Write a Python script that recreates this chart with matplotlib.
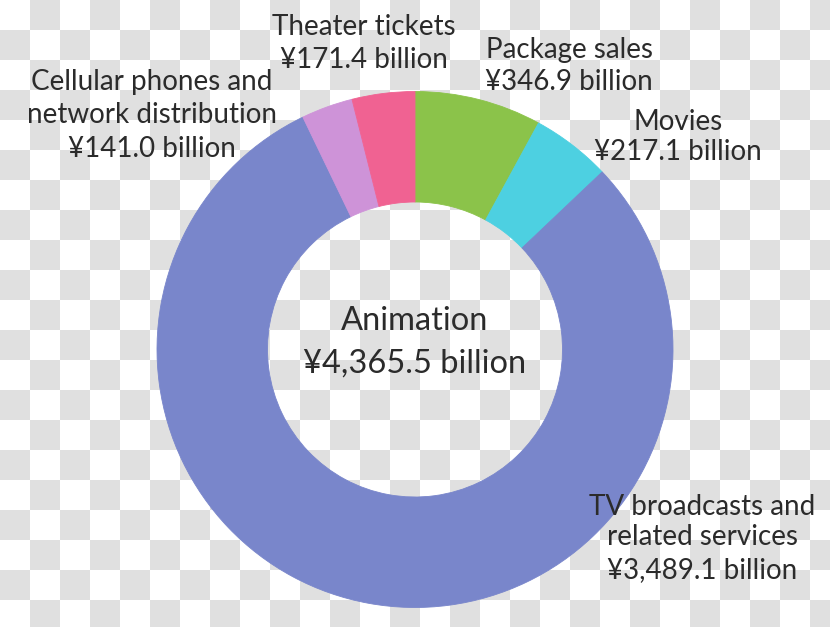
import numpy as np
import matplotlib
matplotlib.use("Agg")
import matplotlib.pyplot as plt
from matplotlib.patches import Rectangle
from matplotlib.collections import PatchCollection

# ---- data ----
categories = ["Package sales", "Movies", "TV broadcasts and\nrelated services",
              "Cellular phones and\nnetwork distribution", "Theater tickets"]
values = [346.9, 217.1, 3489.1, 141.0, 171.4]
colors = ["#8bc34a", "#4dd0e1", "#7986cb", "#ce93d8", "#f06292"]
total_label = "Animation"
total_value = 4365.5

W, H = 830, 627
fig = plt.figure(figsize=(W / 100, H / 100), dpi=100, facecolor="white")

# checkerboard background (transparency pattern in the reference)
bg = fig.add_axes([0, 0, 1, 1], zorder=0)
bg.set_xlim(0, W)
bg.set_ylim(H, 0)
bg.axis("off")
sq = 30
rects = []
for j in range(H // sq + 1):
    for i in range(W // sq + 1):
        if (i + j) % 2 == 1:
            rects.append(Rectangle((i * sq, j * sq), sq, sq))
bg.add_collection(PatchCollection(rects, facecolor="#e0e0e0", edgecolor="none"))

ax = fig.add_axes([0, 0, 1, 1], zorder=1)
ax.patch.set_alpha(0)

# donut
cx, cy = 415, H - 349.5
r_out, r_in = 258, 147.5
wedges, _ = ax.pie(values, colors=colors, startangle=90, counterclock=False,
                   radius=r_out, center=(cx, cy),
                   wedgeprops=dict(width=r_out - r_in, linewidth=0.6))
for w in wedges:
    w.set_edgecolor(w.get_facecolor())

ax.set_xlim(0, W)
ax.set_ylim(0, H)
ax.set_aspect("equal")
ax.axis("off")

FONT = "Lato"
TXT = "#2b2b2b"

def fmt(v):
    return f"¥{v:,.1f} billion"

# label anchor positions (pixel coords from top-left): center x, baselines
layout = {
    0: (569, [58, 90]),
    1: (678, [130, 160]),
    2: (702, [515, 545, 578]),
    3: (152, [90, 123, 157]),
    4: (364, [35, 68]),
}

renderer = fig.canvas.get_renderer()

def fit_size(pairs, base=20):
    ratios = []
    for s, target_w in pairs:
        t = ax.text(0, 0, s, fontsize=base, family=FONT)
        w = t.get_window_extent(renderer).width
        t.remove()
        ratios.append(target_w / w)
    return base * float(np.mean(ratios))

lab_fs = fit_size([("TV broadcasts and", 219), ("Cellular phones and", 243),
                   ("Package sales", 172), ("Theater tickets", 180),
                   ("related services", 193)])
ctr_fs = fit_size([("¥4,365.5 billion", 213), ("Animation", 155)])

for i, (cat, val) in enumerate(zip(categories, values)):
    lines = cat.split("\n") + [fmt(val)]
    x, bases = layout[i]
    for line, b in zip(lines, bases):
        ax.text(x, H - b, line, ha="center", va="baseline", fontsize=lab_fs,
                family=FONT, color=TXT, zorder=3)

ax.text(cx, H - 330, total_label, ha="center", va="baseline", fontsize=ctr_fs,
        family=FONT, color=TXT, zorder=3)
ax.text(cx, H - 373, fmt(total_value), ha="center", va="baseline",
        fontsize=ctr_fs, family=FONT, color=TXT, zorder=3)

fig.savefig("out.png", dpi=100)
